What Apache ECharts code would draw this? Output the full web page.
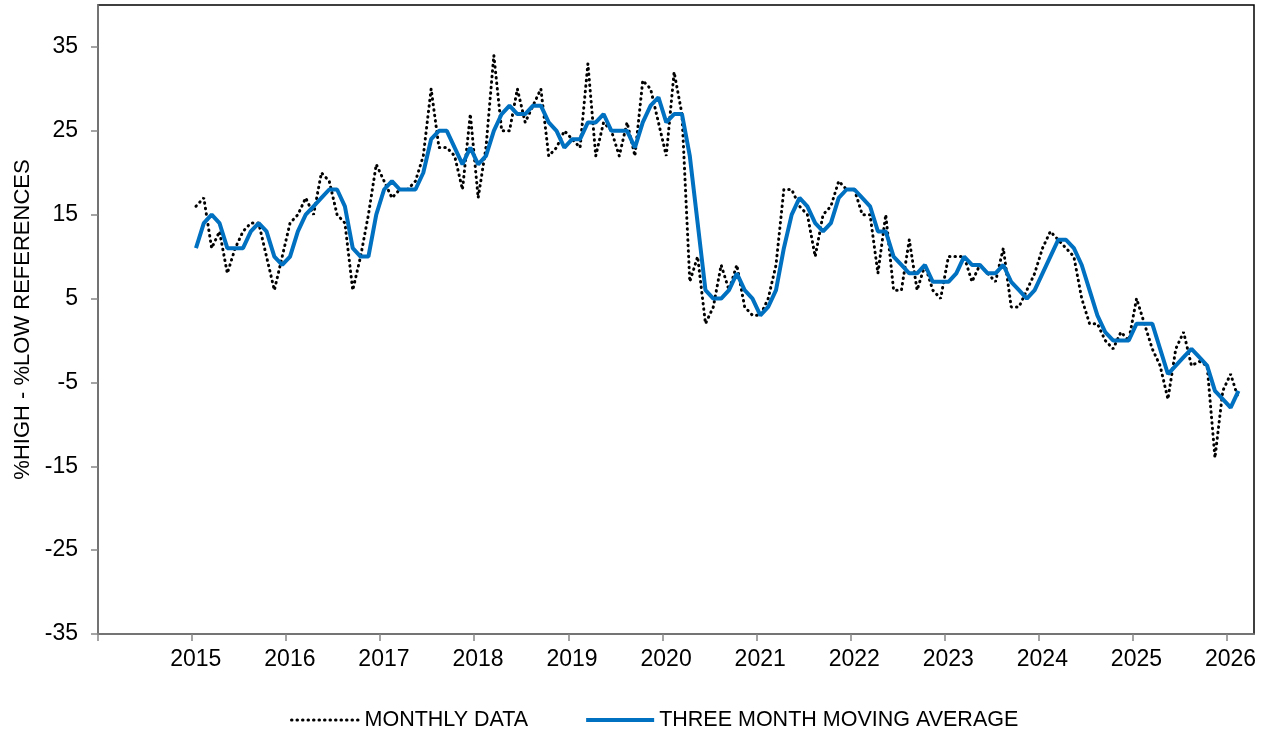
<!DOCTYPE html>
<html>
<head>
<meta charset="utf-8">
<script src="https://cdn.jsdelivr.net/npm/echarts@6/dist/echarts.min.js"></script>
<style>
html,body{margin:0;padding:0;background:#fff;}
#chart{width:1266px;height:731px;}
</style>
</head>
<body>
<div id="chart"></div>
<script>
// First data point: January 2015; one value per month through February 2026
const startYear = 2015;
const monthly = [
  16,17,11,13,8,11,13,14,14,10,
  6,10,14,15,17,15,20,19,15,14,
  6,10,15,21,19,17,18,18,19,22,
  30,23,23,22,18,27,17,23,34,25,
  25,30,26,28,30,22,23,25,24,23,
  33,22,26,25,22,26,22,31,30,26,
  22,32,27,7,10,2,4,9,6,9,
  4,3,3,5,9,18,18,16,15,10,
  15,16,19,18,18,15,15,8,15,6,
  6,12,6,9,6,5,10,10,10,7,
  9,8,7,11,4,4,6,8,11,13,
  12,11,10,5,2,2,0,-1,1,0,
  5,2,-1,-3,-7,-1,1,-3,-2.5,-3,
  -14,-6,-4,-7
];
const movingAvg = [
  11,14,15,14,11,11,11,13,14,13,
  10,9,10,13,15,16,17,18,18,16,
  11,10,10,15,18,19,18,18,18,20,
  24,25,25,23,21,23,21,22,25,27,
  28,27,27,28,28,26,25,23,24,24,
  26,26,27,25,25,25,23,26,28,29,
  26,27,27,22,14,6,5,5,6,8,
  6,5,3,4,6,11,15,17,16,14,
  13,14,17,18,18,17,16,13,13,10,
  9,8,8,9,7,7,7,8,10,9,
  9,8,8,9,7,6,5,6,8,10,
  12,12,11,9,6,3,1,0,0,0,
  2,2,2,-1,-4,-3,-2,-1,-2,-3,
  -6,-7,-8,-6
];
const yearTicks = [2014,2015,2016,2017,2018,2019,2020,2021,2022,2023,2024,2025,2026];
const yearLabels = [2015,2016,2017,2018,2019,2020,2021,2022,2023,2024,2025,2026];
const yTicks = [-35,-25,-15,-5,5,15,25,35];
const seriesNames = ['MONTHLY DATA','THREE MONTH MOVING AVERAGE'];
const yAxisTitle = '%HIGH - %LOW REFERENCES';

const toPoints = arr => arr.map((v, i) => [startYear + (i + 0.5) / 12, v]);

const FONT = 'Liberation Sans, Arial, sans-serif';
const chart = echarts.init(document.getElementById('chart'), null, {renderer: 'canvas'});
chart.setOption({
  animation: false,
  backgroundColor: '#fff',
  grid: {left: 98, right: 12, top: 5, bottom: 97, show: true, borderColor: '#000', borderWidth: 1.5, backgroundColor: 'transparent'},
  legend: {
    left: 285, top: 704,
    itemWidth: 68, itemHeight: 14, itemGap: 56,
    itemStyle: {opacity: 0},
    textStyle: {fontFamily: FONT, fontSize: 21.5, color: '#000'},
    data: [
      {name: seriesNames[0], lineStyle: {width: 3}},
      {name: seriesNames[1], lineStyle: {width: 4}}
    ]
  },
  xAxis: {
    type: 'value', min: 2014, max: 2026.29, interval: 1,
    splitLine: {show: false},
    axisLine: {onZero: false, lineStyle: {color: '#868686', width: 1.5}},
    axisTick: {show: true, length: 7, lineStyle: {color: '#868686', width: 1.5}, customValues: yearTicks},
    axisLabel: {
      customValues: yearLabels.map(y => y + 0.04),
      formatter: v => String(Math.floor(v)),
      fontFamily: FONT, fontSize: 23, color: '#000', margin: 14
    }
  },
  yAxis: {
    type: 'value', min: -35, max: 40, interval: 5,
    name: yAxisTitle, nameLocation: 'middle', nameRotate: 90, nameGap: 64,
    nameTextStyle: {fontFamily: FONT, fontSize: 22, color: '#000'},
    splitLine: {show: false},
    axisLine: {show: true, onZero: false, lineStyle: {color: '#868686', width: 1.5}},
    axisTick: {show: true, length: 7, lineStyle: {color: '#868686', width: 1.5}, customValues: yTicks},
    axisLabel: {customValues: yTicks, fontFamily: FONT, fontSize: 23, color: '#000', margin: 20}
  },
  series: [
    {
      name: seriesNames[0], type: 'line', data: toPoints(monthly),
      symbol: 'none', z: 2,
      itemStyle: {color: '#000'},
      lineStyle: {color: '#000', width: 3, type: [0.5, 5], cap: 'round'}
    },
    {
      name: seriesNames[1], type: 'line', data: toPoints(movingAvg),
      symbol: 'none', z: 3,
      itemStyle: {color: '#0070C0'},
      lineStyle: {color: '#0070C0', width: 4}
    }
  ]
});
</script>
</body>
</html>
